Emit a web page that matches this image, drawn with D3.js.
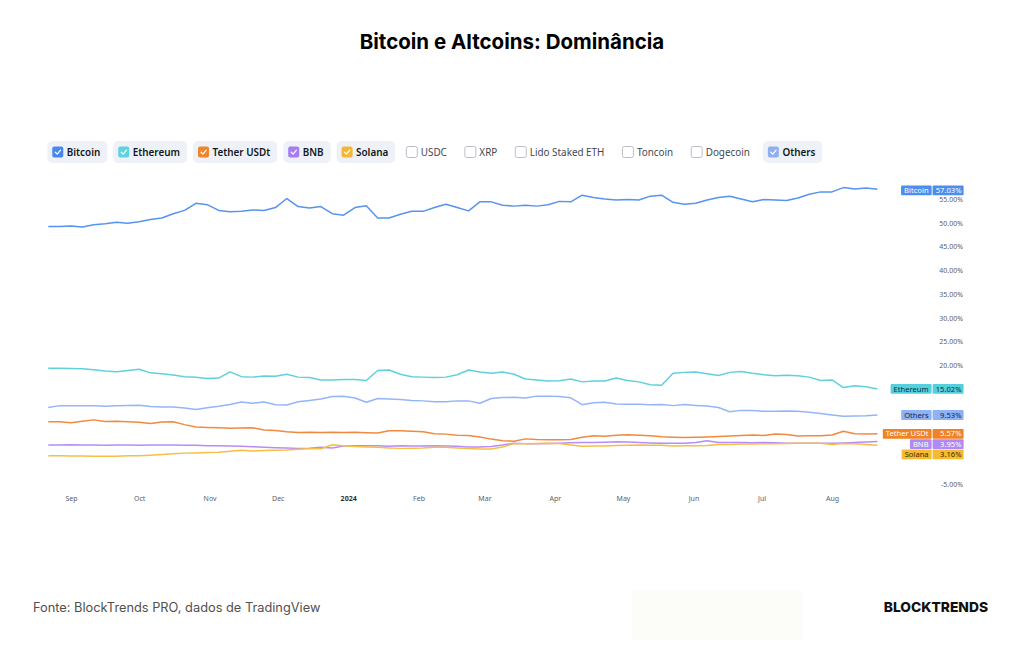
<!DOCTYPE html>
<html>
<head>
<meta charset="utf-8">
<script src="https://cdn.jsdelivr.net/npm/d3@7"></script>
<style>
  html, body { margin: 0; padding: 0; background: #ffffff; }
  svg { display: block; }
</style>
</head>
<body>
<div class="svg-container"></div>
<script>
// sampled every 5 days starting 22 Aug 2023
var startDate = new Date(2023, 7, 22);
var stepDays = 5;

var bitcoin = [49.2,49.2,49.3,49.1,49.6,49.8,50.1,49.9,50.2,50.7,51.0,51.9,52.6,54.1,53.8,52.6,52.3,52.4,52.7,52.6,
  53.2,55.1,53.4,53.1,53.4,51.9,51.6,53.2,53.6,51.0,51.0,51.8,52.4,52.4,53.2,53.9,53.2,52.5,54.4,54.4,
  53.7,53.5,53.7,53.5,53.8,54.5,54.4,55.8,55.3,55.0,54.8,54.9,54.8,55.6,55.8,54.3,53.9,54.1,54.8,55.3,
  55.6,55.0,54.4,54.9,54.8,54.7,55.2,56.0,56.5,56.5,57.4,57.1,57.3,57.03];
var ethereum = [19.35,19.35,19.3,19.25,19.05,18.8,18.65,18.9,19.15,18.4,18.2,17.95,17.6,17.45,17.2,17.3,18.6,17.6,17.5,17.75,
  17.7,18.1,17.5,17.4,16.9,16.9,17.0,17.0,16.8,18.9,19.0,18.1,17.6,17.5,17.4,17.5,18.0,19.0,18.6,18.3,
  18.6,18.1,17.1,16.9,16.7,16.75,17.1,16.5,16.7,16.7,17.3,16.8,16.5,15.9,15.8,18.3,18.5,18.6,18.2,17.85,
  18.5,18.7,18.3,18.0,17.8,17.9,17.8,17.5,16.8,16.9,15.3,15.7,15.45,15.02];
var others = [11.1,11.5,11.45,11.5,11.45,11.35,11.45,11.55,11.6,11.3,11.2,11.2,11.0,10.7,11.05,11.35,11.75,12.25,12.0,12.25,
  11.7,11.65,12.3,12.6,12.9,13.4,13.45,13.1,12.2,13.0,12.9,12.8,12.6,12.5,12.3,12.3,12.5,12.5,12.0,13.0,
  13.2,13.25,13.1,13.5,13.5,13.4,13.15,11.7,12.1,12.2,11.85,11.8,11.8,11.7,11.75,11.5,11.75,11.55,11.4,11.1,
  10.2,10.5,10.45,10.3,10.3,10.35,10.3,10.1,9.85,9.55,9.25,9.3,9.35,9.53];
var tether = [8.1,8.1,7.9,8.2,8.5,8.15,8.2,8.1,8.0,7.75,8.05,8.1,7.5,7.0,6.9,6.85,6.75,6.8,6.85,6.35,
  6.25,6.0,5.85,5.9,5.85,5.9,5.85,5.9,5.8,5.75,6.2,6.2,6.1,6.0,5.6,5.5,5.25,5.2,4.9,4.45,
  4.1,4.0,4.5,4.35,4.3,4.3,4.35,4.85,5.15,5.05,5.25,5.35,5.25,5.15,4.95,4.85,4.8,4.85,4.9,5.0,
  5.1,5.2,5.3,5.2,5.55,5.4,5.1,5.15,5.15,5.3,6.1,5.6,5.55,5.57];
var bnb = [3.2,3.2,3.25,3.2,3.2,3.15,3.2,3.2,3.15,3.2,3.2,3.2,3.15,3.15,3.07,3.07,3.0,2.93,2.85,2.75,
  2.65,2.6,2.5,2.55,2.75,2.6,3.0,3.05,3.05,3.05,2.95,3.05,3.0,3.0,3.05,3.0,2.93,2.8,2.8,2.9,
  3.2,3.6,3.5,3.5,3.55,3.6,3.7,3.75,3.75,3.8,3.9,3.85,3.75,3.65,3.6,3.6,3.6,3.75,4.1,3.75,
  3.75,3.75,3.7,3.75,3.7,3.6,3.6,3.6,3.6,3.6,3.65,3.75,3.85,3.95];
var solana = [0.95,0.95,0.9,0.9,0.85,0.82,0.85,0.95,0.95,1.05,1.2,1.35,1.5,1.55,1.65,1.7,1.9,2.1,1.95,2.05,
  2.1,2.15,2.3,2.4,2.4,3.25,3.05,2.9,2.8,2.75,2.6,2.5,2.55,2.6,2.75,2.75,2.6,2.45,2.35,2.35,
  2.8,3.5,3.5,3.55,3.6,3.5,3.2,2.95,3.0,3.0,3.1,3.15,3.2,3.15,3.15,3.0,3.05,3.05,3.1,3.3,
  3.3,3.4,3.4,3.45,3.45,3.55,3.6,3.6,3.6,3.3,3.55,3.45,3.3,3.16];

var seriesNames = ['Ethereum', 'Others', 'Tether USDt', 'BNB', 'Solana', 'Bitcoin'];
var seriesValues = [ethereum, others, tether, bnb, solana, bitcoin];
var seriesColors = ['#5fd0dc', '#94b5f6', '#f08a3e', '#b88cf6', '#f7be45', '#5893ee'];
var labelFills = ['#56cfdc', '#8fb2f4', '#f08228', '#b089f5', '#f6bb2f', '#4c8df0'];
var labelText = ['#0d2f38', '#14254a', '#ffffff', '#ffffff', '#3a2a00', '#ffffff'];

var legendNames = ['Bitcoin', 'Ethereum', 'Tether USDt', 'BNB', 'Solana', 'USDC', 'XRP', 'Lido Staked ETH', 'Toncoin', 'Dogecoin', 'Others'];
var legendOn = [true, true, true, true, true, false, false, false, false, false, true];
var legendColors = ['#4a86f0', '#5bd3e0', '#f2842a', '#a77bf3', '#f5b731', null, null, null, null, null, '#8fb0f0'];

// 15, 10, 5 and 0 sit under the value tags in the original, so only these show
var yTicks = [55, 50, 45, 40, 35, 30, 25, 20, -5];

var chart = {
  width: 1024,
  height: 645,
  font: "'Noto Sans', 'DejaVu Sans', sans-serif",
  x: null,
  y: null,
  svg: null,

  makeBoard() {
    chart.svg = d3.select('.svg-container').append('svg')
      .attr('width', chart.width)
      .attr('height', chart.height)
      .attr('viewBox', '0 0 ' + chart.width + ' ' + chart.height);

    chart.svg.append('rect')
      .attr('width', chart.width).attr('height', chart.height)
      .attr('fill', '#ffffff');

    chart.svg.append('text')
      .attr('x', 512).attr('y', 49)
      .attr('text-anchor', 'middle')
      .style('font-family', 'Inter, sans-serif')
      .style('font-weight', 700)
      .style('font-size', '20.5px')
      .style('fill', '#000000')
      .text('Bitcoin e Altcoins: Dominância');

    chart.x = d3.scaleTime()
      .domain([new Date(2023, 8, 1), new Date(2024, 7, 1)])
      .range([71, 832]);
    chart.y = d3.scaleLinear()
      .domain([-5, 55])
      .range([484, 199]);
  },

  makeLegend() {
    var g = chart.svg.append('g').attr('class', 'legend');
    var cx = 47.3;
    legendNames.forEach(function(name, i) {
      var item = g.append('g');
      var pill = item.append('rect')
        .attr('x', cx).attr('y', 141)
        .attr('height', 22).attr('rx', 5)
        .attr('fill', legendOn[i] ? '#eef2f8' : 'none');
      var box = item.append('rect')
        .attr('x', cx + 5).attr('y', 146.5)
        .attr('width', 11).attr('height', 11).attr('rx', 2);
      if (legendOn[i]) {
        box.attr('fill', legendColors[i]);
        item.append('path')
          .attr('d', 'M' + (cx + 8) + ',152.2 L' + (cx + 9.9) + ',154.1 L' + (cx + 13.2) + ',150.2')
          .attr('fill', 'none')
          .attr('stroke', '#ffffff')
          .attr('stroke-width', 1.3)
          .attr('stroke-linecap', 'round')
          .attr('stroke-linejoin', 'round');
      } else {
        box.attr('fill', '#ffffff')
          .attr('stroke', '#b2b5be')
          .attr('stroke-width', 0.9);
      }
      var t = item.append('text')
        .attr('x', cx + 19.5).attr('y', 155.5)
        .style('font-family', chart.font)
        .style('font-size', '9.9px')
        .style('font-weight', legendOn[i] ? 600 : 400)
        .style('fill', legendOn[i] ? '#131722' : '#434651')
        .text(name);
      var w = t.node().getComputedTextLength();
      var pillW = 19.5 + w + 7;
      pill.attr('width', pillW);
      cx += pillW + 6;
    });
  },

  makeAxes() {
    var yAxis = chart.svg.append('g')
      .attr('transform', 'translate(963,0)')
      .call(d3.axisRight(chart.y)
        .tickValues(yTicks)
        .tickSize(0)
        .tickFormat(function(d) { return d.toFixed(2) + '%'; }));
    yAxis.select('.domain').remove();
    yAxis.selectAll('text')
      .attr('x', 0)
      .attr('text-anchor', 'end')
      .style('font-family', chart.font)
      .style('font-size', '7px')
      .style('fill', '#5d606b');

    var xAxis = chart.svg.append('g')
      .attr('transform', 'translate(0,496)')
      .call(d3.axisBottom(chart.x)
        .ticks(d3.timeMonth.every(1))
        .tickSize(0)
        .tickFormat(function(d) {
          return d.getMonth() === 0 ? String(d.getFullYear()) : d3.timeFormat('%b')(d);
        }));
    xAxis.select('.domain').remove();
    xAxis.selectAll('text')
      .attr('y', 0)
      .attr('dy', '0.71em')
      .style('font-family', chart.font)
      .style('font-size', '7px')
      .style('font-weight', function(d) { return d.getMonth() === 0 ? 700 : 400; })
      .style('fill', function(d) { return d.getMonth() === 0 ? '#2a2e39' : '#5d606b'; });
  },

  makeLines() {
    var dates = bitcoin.map(function(v, i) { return d3.timeDay.offset(startDate, stepDays * i); });
    var line = d3.line()
      .x(function(d, i) { return chart.x(dates[i]); })
      .y(function(d) { return chart.y(d); })
      .curve(d3.curveLinear);
    chart.svg.append('g').selectAll('path')
      .data(seriesValues)
      .join('path')
      .attr('d', line)
      .attr('fill', 'none')
      .attr('stroke', function(d, i) { return seriesColors[i]; })
      .attr('stroke-width', 1.5)
      .attr('stroke-linejoin', 'round');
  },

  makeLabels() {
    // stack the last-value tags so they do not overlap
    var tags = seriesNames.map(function(name, i) {
      var vals = seriesValues[i];
      var last = vals[vals.length - 1];
      return { name: name, value: last, yy: chart.y(last), i: i };
    }).sort(function(a, b) { return a.yy - b.yy; });
    for (var k = 1; k < tags.length; k++) {
      if (tags[k].yy < tags[k - 1].yy + 10.3) tags[k].yy = tags[k - 1].yy + 10.3;
    }
    tags[0].yy += 1;
    var g = chart.svg.append('g').attr('class', 'tags');
    tags.forEach(function(tag) {
      var h = 9.8;
      var top = tag.yy - h / 2;
      var item = g.append('g');
      var nameText = item.append('text')
        .attr('x', 928.6).attr('y', tag.yy + 2.7)
        .attr('text-anchor', 'end')
        .style('font-family', chart.font)
        .style('font-size', '7.6px')
        .style('fill', labelText[tag.i])
        .text(tag.name);
      var w = nameText.node().getComputedTextLength();
      item.insert('rect', 'text')
        .attr('x', 931.6 - w - 6).attr('y', top)
        .attr('width', w + 6).attr('height', h)
        .attr('rx', 1)
        .attr('fill', labelFills[tag.i]);
      item.insert('rect', 'text')
        .attr('x', 932.6).attr('y', top)
        .attr('width', 31).attr('height', h)
        .attr('rx', 1)
        .attr('fill', labelFills[tag.i]);
      item.append('text')
        .attr('x', 961.5).attr('y', tag.yy + 2.7)
        .attr('text-anchor', 'end')
        .style('font-family', chart.font)
        .style('font-size', '7.6px')
        .style('fill', labelText[tag.i])
        .text(tag.value.toFixed(2) + '%');
    });
  },

  makeFooter() {
    chart.svg.append('rect')
      .attr('x', 632).attr('y', 590)
      .attr('width', 170).attr('height', 50)
      .attr('fill', '#fcfcf9');
    chart.svg.append('text')
      .attr('x', 33).attr('y', 611.5)
      .style('font-family', 'Inter, sans-serif')
      .style('font-size', '12.8px')
      .style('fill', '#505050')
      .text('Fonte: BlockTrends PRO, dados de TradingView');
    chart.svg.append('text')
      .attr('x', 988).attr('y', 611.5)
      .attr('text-anchor', 'end')
      .style('font-family', 'Inter, sans-serif')
      .style('font-size', '13.8px')
      .style('font-weight', 800)
      .style('fill', '#111111')
      .text('BLOCKTRENDS');
  }
};

document.addEventListener('DOMContentLoaded', function(event) {
  chart.makeBoard();
  chart.makeLegend();
  chart.makeAxes();
  chart.makeLines();
  chart.makeLabels();
  chart.makeFooter();
});
</script>
</body>
</html>
